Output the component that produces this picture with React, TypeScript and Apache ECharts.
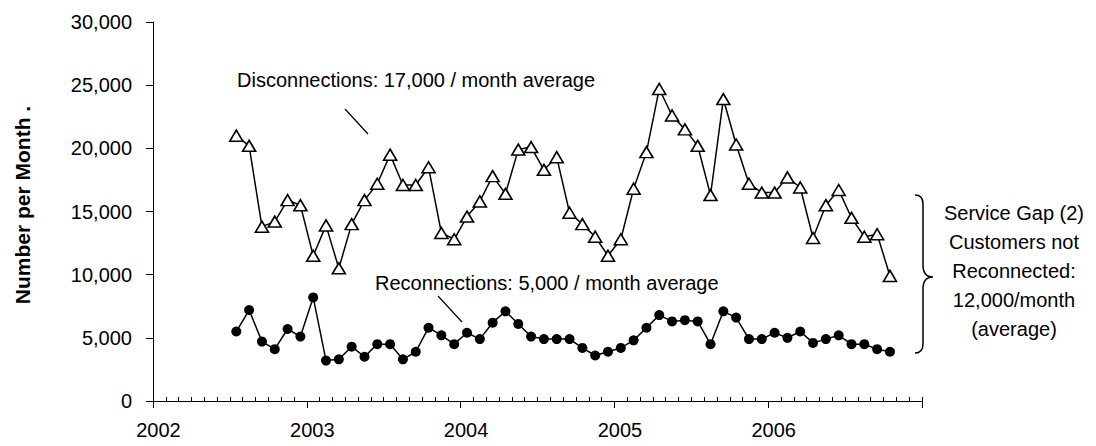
import React, { useEffect, useRef } from "react";
import * as echarts from "echarts";

const FONT = '"Liberation Sans", Arial, Helvetica, sans-serif';

// ---- data ----
const months: string[] = [
  "2002-07", "2002-08", "2002-09", "2002-10", "2002-11", "2002-12",
  "2003-01", "2003-02", "2003-03", "2003-04", "2003-05", "2003-06",
  "2003-07", "2003-08", "2003-09", "2003-10", "2003-11", "2003-12",
  "2004-01", "2004-02", "2004-03", "2004-04", "2004-05", "2004-06",
  "2004-07", "2004-08", "2004-09", "2004-10", "2004-11", "2004-12",
  "2005-01", "2005-02", "2005-03", "2005-04", "2005-05", "2005-06",
  "2005-07", "2005-08", "2005-09", "2005-10", "2005-11", "2005-12",
  "2006-01", "2006-02", "2006-03", "2006-04", "2006-05", "2006-06",
  "2006-07", "2006-08", "2006-09", "2006-10",
];

const disconnections: number[] = [
  21000, 20200, 13800, 14200, 15900, 15500,
  11500, 13900, 10500, 14000, 15900, 17200,
  19500, 17100, 17100, 18500, 13300, 12800,
  14600, 15800, 17800, 16400, 19900, 20100,
  18300, 19300, 14900, 14000, 13000, 11500,
  12800, 16800, 19700, 24700, 22600, 21500,
  20200, 16300, 23900, 20300, 17200, 16500,
  16500, 17700, 16900, 12900, 15500, 16700,
  14500, 13000, 13200, 9900,
];

const reconnections: number[] = [
  5500, 7200, 4700, 4100, 5700, 5100,
  8200, 3200, 3300, 4300, 3500, 4500,
  4500, 3300, 3900, 5800, 5200, 4500,
  5400, 4900, 6200, 7100, 6100, 5100,
  4900, 4900, 4900, 4200, 3600, 3900,
  4200, 4800, 5800, 6800, 6300, 6400,
  6300, 4500, 7100, 6600, 4900, 4900,
  5400, 5000, 5500, 4600, 4900, 5200,
  4500, 4500, 4100, 3900,
];

const yearLabels: string[] = ["2002", "2003", "2004", "2005", "2006"];
const axisEndYear = 2007;

const yAxisTitle = "Number per Month .";
const discNote = "Disconnections: 17,000 / month average";
const reconNote = "Reconnections: 5,000 / month average";
const gapNote = [
  "Service Gap (2)",
  "Customers not",
  "Reconnected:",
  "12,000/month",
  "(average)",
];

// ---- helpers ----
const baseYear = Number(yearLabels[0]);
const monthPos = (m: string) => {
  const [y, mo] = m.split("-").map(Number);
  return (y - baseYear) * 12 + (mo - 1) + 0.5; // mid-month
};
const totalMonths = (axisEndYear - baseYear) * 12;
const monthSlots: string[] = Array.from({ length: totalMonths }, (_, i) => String(i));

echarts.graphic.registerShape(
  "brace",
  echarts.graphic.extendPath(
    "M0,0 C6,0 8,3 8,9 L8,70 C8,78 12,82 18,82 C12,82 8,86 8,94 L8,149 C8,155 6,158 0,158",
    {}
  )
);

export default function App() {
  const ref = useRef<HTMLDivElement>(null);

  useEffect(() => {
    if (!ref.current) return;
    const chart = echarts.init(ref.current, undefined, { renderer: "svg" });

    const discData = months.map((m, i) => [monthPos(m), disconnections[i]]);
    const reconData = months.map((m, i) => [monthPos(m), reconnections[i]]);

    chart.setOption({
      animation: false,
      backgroundColor: "#fff",
      textStyle: { fontFamily: FONT },
      grid: { left: 153, right: 174, top: 22, bottom: 45, containLabel: false },
      xAxis: [
        {
          type: "value",
          min: 0,
          max: totalMonths,
          interval: 12,
          axisLine: { show: true, onZero: false, lineStyle: { color: "#000", width: 1 } },
          axisTick: { show: true, inside: false, length: 7, lineStyle: { color: "#000", width: 1 } },
          axisLabel: {
            formatter: (v: number) => yearLabels[Math.round(v / 12)] ?? "",
            fontSize: 20,
            color: "#000",
            fontFamily: FONT,
            margin: 19,
            padding: [0, 0, 0, 11],
          },
          splitLine: { show: false },
        },
        {
          type: "category",
          data: monthSlots,
          boundaryGap: true,
          position: "bottom",
          axisLine: { show: false },
          axisTick: {
            show: true,
            inside: true,
            length: 4,
            interval: (i: number) => i % 12 !== 0,
            lineStyle: { color: "#000", width: 1 },
          },
          axisLabel: { show: false },
          splitLine: { show: false },
        },
      ],
      yAxis: {
        type: "value",
        min: 0,
        max: 30000,
        interval: 5000,
        axisLine: { show: true, lineStyle: { color: "#000", width: 1 } },
        axisTick: { show: true, inside: false, length: 7, lineStyle: { color: "#000", width: 1 } },
        axisLabel: {
          formatter: (v: number) => v.toLocaleString("en-US"),
          fontSize: 20,
          color: "#000",
          fontFamily: FONT,
          margin: 21,
        },
        splitLine: { show: false },
      },
      series: [
        {
          name: "Disconnections",
          type: "line",
          xAxisIndex: 0,
          data: discData,
          symbol: "triangle",
          symbolSize: [13, 11],
          lineStyle: { color: "#000", width: 1.5 },
          itemStyle: { color: "#fff", borderColor: "#000", borderWidth: 1.6 },
          z: 3,
        },
        {
          name: "Reconnections",
          type: "line",
          xAxisIndex: 0,
          data: reconData,
          symbol: "circle",
          symbolSize: 10,
          lineStyle: { color: "#000", width: 1.5 },
          itemStyle: { color: "#000", borderColor: "#000", borderWidth: 0 },
          z: 3,
        },
      ],
      graphic: [
        {
          type: "text",
          x: 22.5,
          y: 205,
          rotation: Math.PI / 2,
          style: {
            text: yAxisTitle,
            fontSize: 21,
            fontWeight: "bold",
            fontFamily: FONT,
            fill: "#000",
            align: "center",
            verticalAlign: "middle",
          },
        },
        {
          type: "text",
          x: 237,
          y: 80,
          style: {
            text: discNote,
            fontSize: 20,
            fontFamily: FONT,
            fill: "#000",
            align: "left",
            verticalAlign: "middle",
          },
        },
        {
          type: "line",
          shape: { x1: 345, y1: 109, x2: 368, y2: 134 },
          style: { stroke: "#000", lineWidth: 1.2 },
        },
        {
          type: "text",
          x: 375,
          y: 283,
          style: {
            text: reconNote,
            fontSize: 20,
            fontFamily: FONT,
            fill: "#000",
            align: "left",
            verticalAlign: "middle",
          },
        },
        {
          type: "line",
          shape: { x1: 438, y1: 296, x2: 462, y2: 322 },
          style: { stroke: "#000", lineWidth: 1.2 },
        },
        {
          type: "brace",
          x: 915,
          y: 195,
          style: { fill: "none", stroke: "#000", lineWidth: 1.5 },
        },
        {
          type: "text",
          x: 1014,
          y: 270.5,
          style: {
            text: gapNote.join("\n"),
            fontSize: 20,
            lineHeight: 29,
            fontFamily: FONT,
            fill: "#000",
            align: "center",
            verticalAlign: "middle",
          },
        },
      ],
    });

    return () => chart.dispose();
  }, []);

  return (
    <div
      ref={ref}
      style={{ position: "absolute", left: 0, top: 0, width: 1096, height: 446, background: "#fff" }}
    />
  );
}
